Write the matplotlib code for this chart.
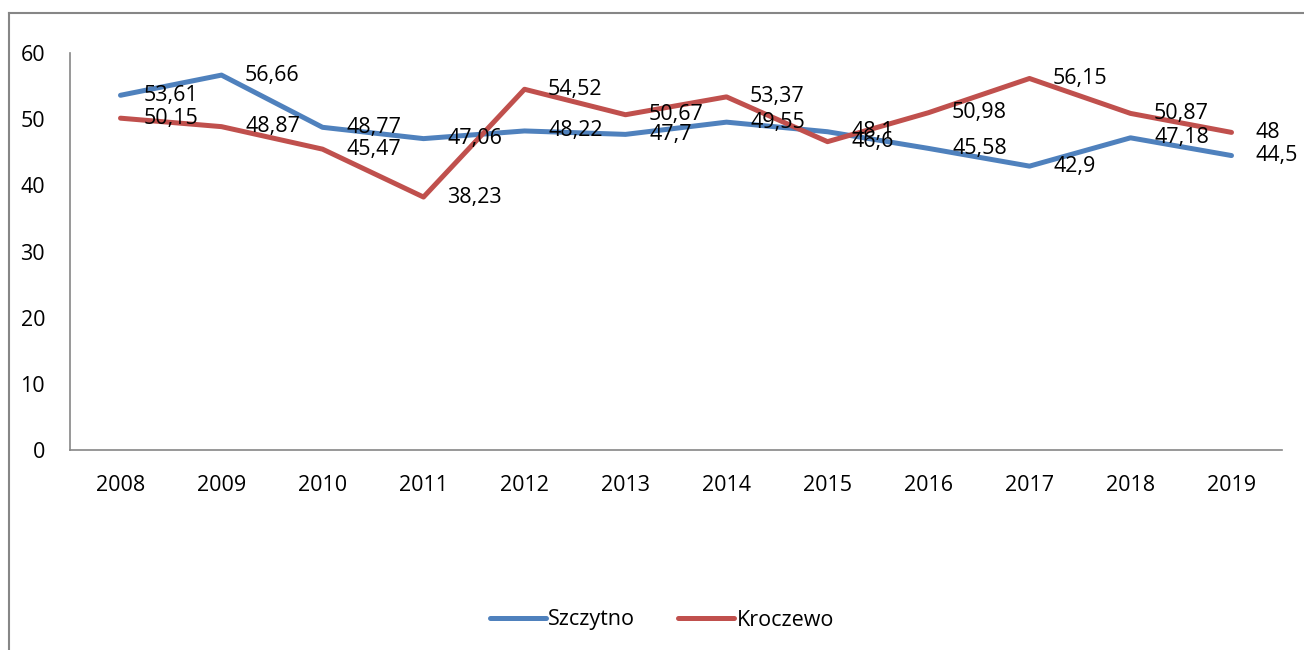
import matplotlib.pyplot as plt
from matplotlib.lines import Line2D

years = ['2008', '2009', '2010', '2011', '2012', '2013', '2014', '2015', '2016', '2017', '2018', '2019']
szczytno = [53.61, 56.66, 48.77, 47.06, 48.22, 47.7, 49.55, 48.1, 45.58, 42.9, 47.18, 44.5]
kroczewo = [50.15, 48.87, 45.47, 38.23, 54.52, 50.67, 53.37, 46.6, 50.98, 56.15, 50.87, 48]

plt.rcParams['font.family'] = ['Open Sans', 'DejaVu Sans']

fig = plt.figure(figsize=(13.04, 6.5), dpi=100)
ax = fig.add_axes([70/1304, 1 - 450/650, 1212/1304, 397/650])

x = list(range(len(years)))
ax.plot(x, szczytno, color='#4F81BD', lw=3.6, label='Szczytno', solid_capstyle='round')
ax.plot(x, kroczewo, color='#C0504D', lw=3.6, label='Kroczewo', solid_capstyle='round')

def fmt(v):
    s = ('%.2f' % v).rstrip('0').rstrip('.')
    return s.replace('.', ',')

fs = 15.5
for series in (szczytno, kroczewo):
    for i, v in enumerate(series):
        ax.annotate(fmt(v), (i, v), xytext=(17, 0), textcoords='offset points',
                    ha='left', va='center', fontsize=fs, color='black')

ax.set_xlim(-0.5, len(years) - 0.5)
ax.set_ylim(0, 60)
ax.set_yticks(range(0, 61, 10))
ax.set_xticks(x)
ax.set_xticklabels(years)
ax.tick_params(axis='both', length=0, labelsize=fs)
ax.tick_params(axis='x', pad=18)
ax.tick_params(axis='y', pad=18)

for side in ['top', 'right']:
    ax.spines[side].set_visible(False)
for side in ['left', 'bottom']:
    ax.spines[side].set_color('#868686')
    ax.spines[side].set_linewidth(1.2)

leg = fig.legend(loc='center', bbox_to_anchor=(662/1304, 1 - 620/650), ncol=2, frameon=False,
                 fontsize=fs, handlelength=2.6, handletextpad=0.1, columnspacing=2.0)

# outer chart frame (only left and top edges visible)
fig.add_artist(Line2D([9/1304, 9/1304], [0, 1 - 13/650], color='#868686', lw=1.5, transform=fig.transFigure))
fig.add_artist(Line2D([9/1304, 1], [1 - 13/650, 1 - 13/650], color='#868686', lw=1.5, transform=fig.transFigure))

fig.savefig('out.png', dpi=100)
